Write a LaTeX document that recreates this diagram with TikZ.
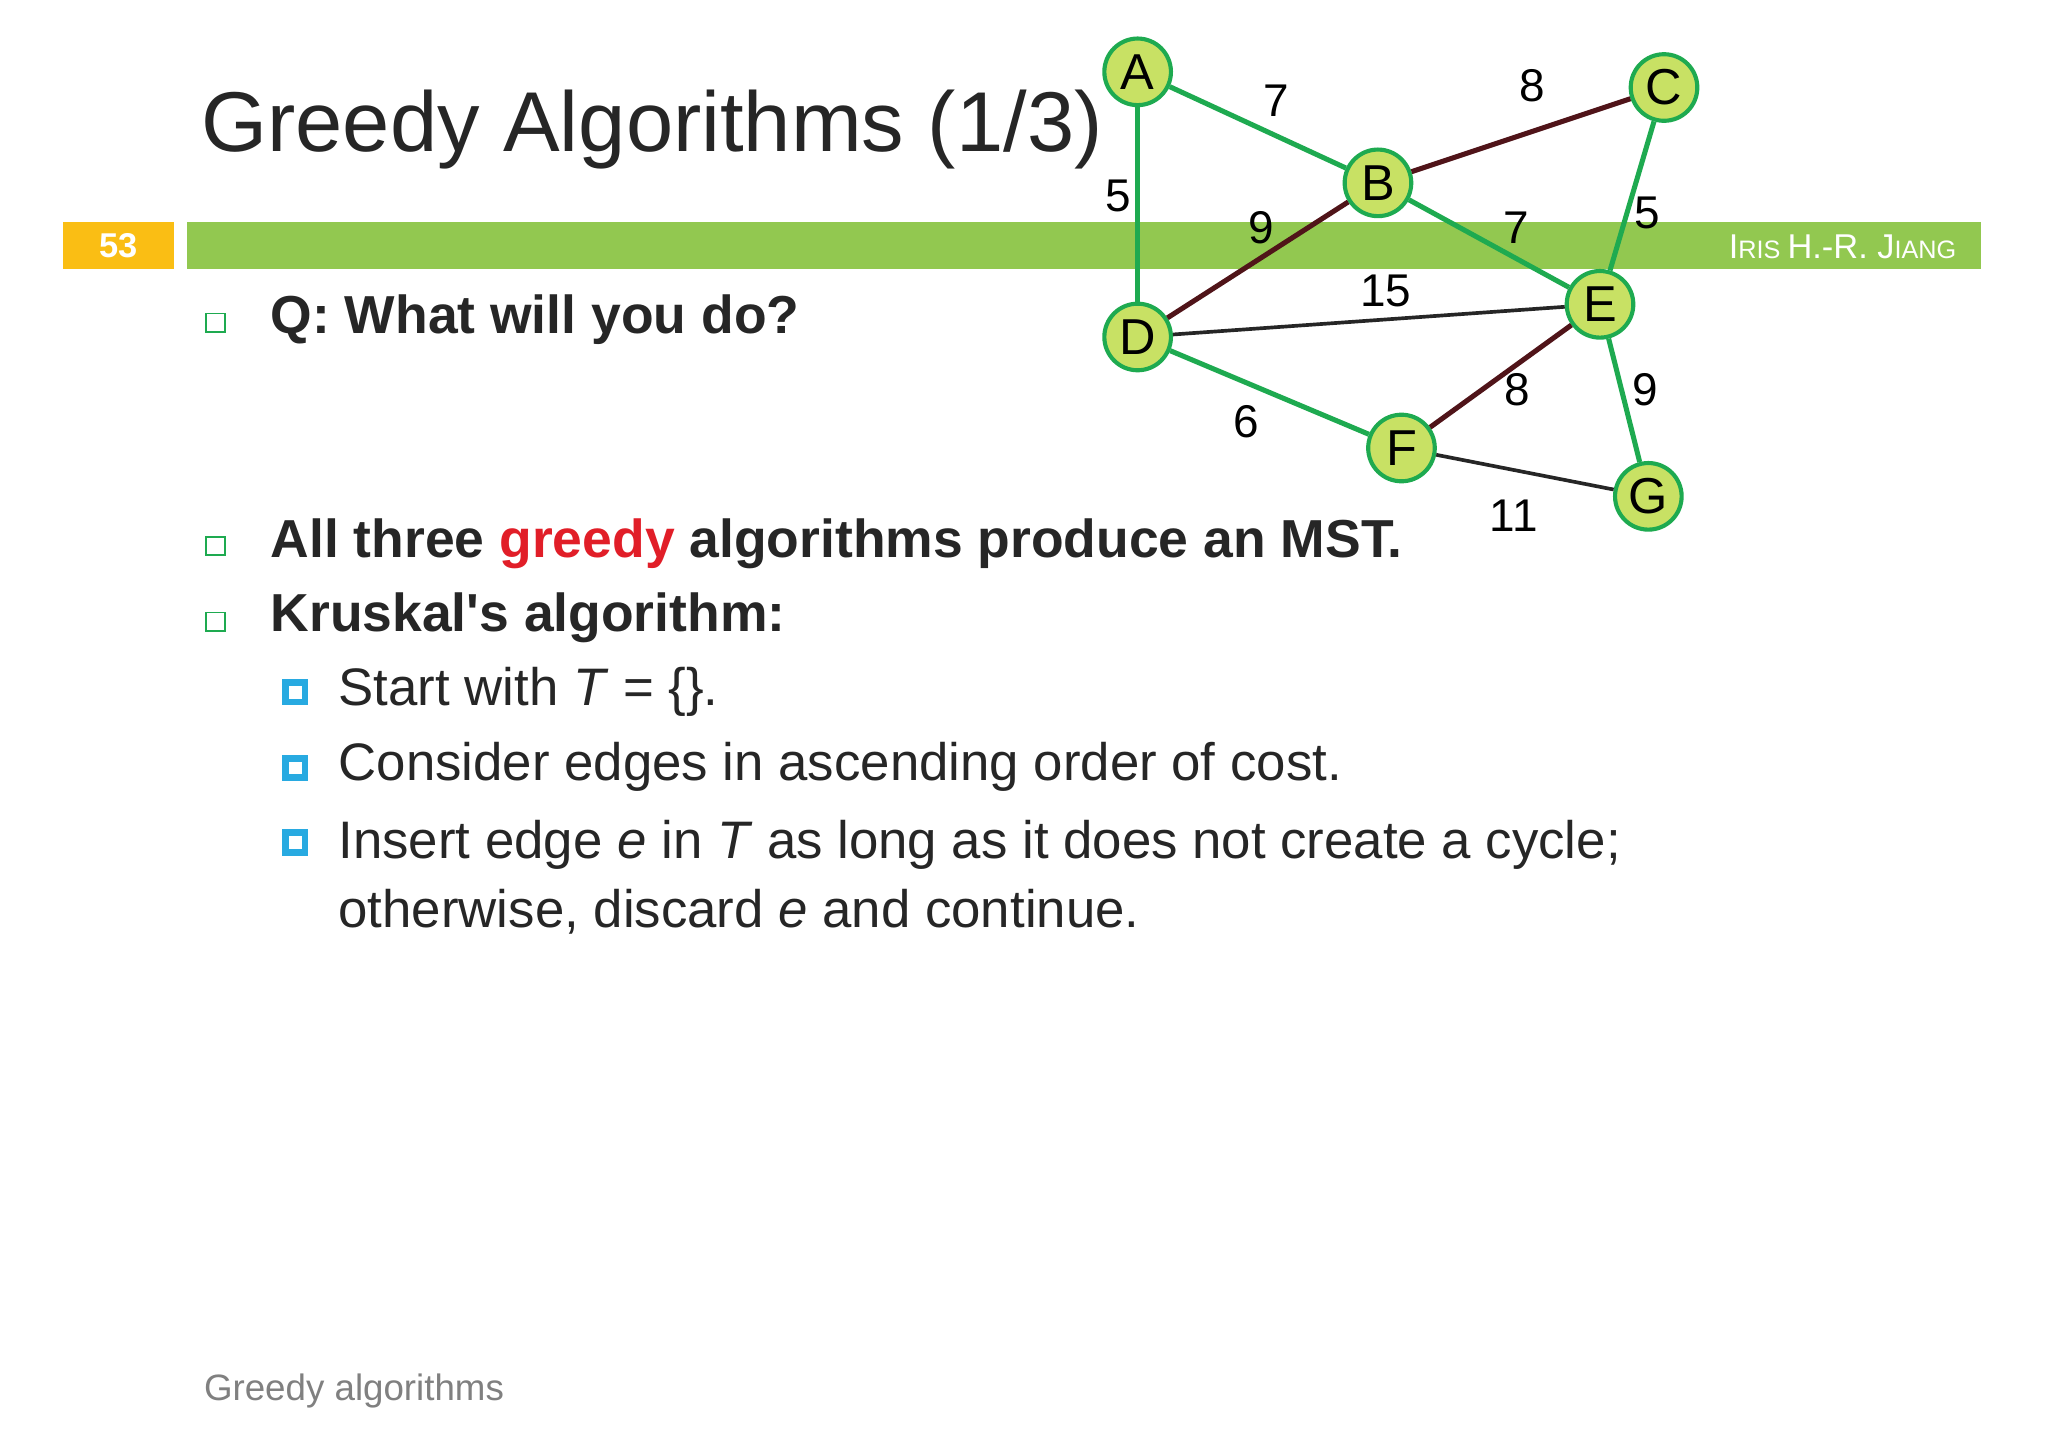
\documentclass[tikz,border=0pt]{standalone}
\usepackage{fontspec}
\setmainfont{Liberation Sans}
\definecolor{barg}{RGB}{146,200,80}
\definecolor{org}{RGB}{250,190,20}
\definecolor{eg}{RGB}{30,170,80}
\definecolor{dr}{RGB}{80,20,25}
\definecolor{nodef}{RGB}{200,225,100}
\definecolor{bl}{RGB}{40,170,225}
\definecolor{gr}{RGB}{225,30,40}
\begin{document}
\begin{tikzpicture}[x=0.02cm,y=-0.02cm,
 vtx/.style={circle,draw=eg,line width=1.8pt,fill=nodef,minimum size=1.02cm,inner sep=0pt,font=\fontsize{22}{24}\selectfont},
 ge/.style={eg,line width=2.2pt},
 re/.style={dr,line width=2.2pt},
 be/.style={black!85,line width=1.6pt},
 wl/.style={font=\fontsize{20}{22}\selectfont},
 bt/.style={anchor=west,font=\fontsize{23.3}{27}\selectfont\bfseries,text=black!85},
 st/.style={anchor=west,font=\fontsize{23}{28}\selectfont,text=black!85,align=left}]
\useasboundingbox (0,0) rectangle (1568,1108);
\fill[white] (0,0) rectangle (1568,1108);
\fill[barg] (143,170) rectangle (1517,206);
\fill[org] (48,170) rectangle (133,206);
\node[text=white,font=\fontsize{15}{16}\selectfont\bfseries] (pn) at (90.5,188) {53};
\node[anchor=east,text=white,font=\fontsize{15}{16}\selectfont] (au) at (1504,189) {I\fontsize{11}{12}\selectfont RIS \fontsize{15}{16}\selectfont H.-R. J\fontsize{11}{12}\selectfont IANG};
\node[anchor=west,font=\fontsize{37}{42}\selectfont,text=black!85] (ti) at (148,99) {Greedy Algorithms (1/3)};
\node (A) [vtx] at (871,55) {A};
\node (B) [vtx] at (1055,140) {B};
\node (C) [vtx] at (1274,67) {C};
\node (D) [vtx] at (871,258) {D};
\node (E) [vtx] at (1225,233) {E};
\node (F) [vtx] at (1073,343) {F};
\node (G) [vtx] at (1262,380) {G};
\draw[ge] (A)--(B); \draw[re] (B)--(C); \draw[ge] (A)--(D); \draw[re] (B)--(D);
\draw[ge] (B)--(E); \draw[ge] (C)--(E); \draw[be] (D)--(E); \draw[ge] (D)--(F);
\draw[re] (E)--(F); \draw[ge] (E)--(G); \draw[be] (F)--(G);
\node[wl] (l1) at (977,77) {7};
\node[wl] (l2) at (1173,66) {8};
\node[wl] (l3) at (856,150) {5};
\node[wl] (l4) at (966,174) {9};
\node[wl] (l5) at (1161,174) {7};
\node[wl] (l6) at (1261,163) {5};
\node[wl] (l7) at (1061,223) {15};
\node[wl] (l8) at (954,323) {6};
\node[wl] (l9) at (1162,298) {8};
\node[wl] (l10) at (1260,298) {9};
\node[wl] (l11) at (1159,395) {11};
\node[draw=eg,line width=0.8pt,minimum size=0.28cm,inner sep=0pt] (b1) at (165,247) {};
\node[draw=eg,line width=0.8pt,minimum size=0.28cm,inner sep=0pt] (b2) at (165,418) {};
\node[draw=eg,line width=0.8pt,minimum size=0.28cm,inner sep=0pt] (b3) at (165,476) {};
\node[bt] (q) at (201,245) {Q: What will you do?};
\node[bt] (t2) at (201,416) {All three \textcolor{gr}{greedy} algorithms produce an MST.};
\node[bt] (t3) at (201,473) {Kruskal\textquotesingle s algorithm:};
\foreach \y/\n in {530/s1,588/s2,645/s3}{
 \node[draw=bl,line width=3pt,minimum size=0.3cm,inner sep=0pt] (\n) at (226,\y) {};}
\node[st] (u1) at (253,530) {Start with \textit{T} = \{\}.};
\node[st] (u2) at (253,587) {Consider edges in ascending order of cost.};
\node[st,anchor=north west] (u3) at (253,622) {Insert edge \textit{e} in \textit{T} as long as it does not create a cycle;\\[2pt] otherwise, discard \textit{e} and continue.};
\node[anchor=west,text=black!50,font=\fontsize{16}{18}\selectfont] (ft) at (150,1065) {Greedy algorithms};
\end{tikzpicture}
\end{document}
